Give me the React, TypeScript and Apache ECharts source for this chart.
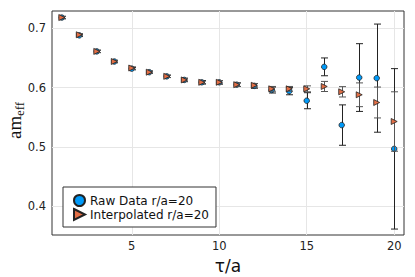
import React, { useEffect, useRef } from "react";
import * as echarts from "echarts";

const tau = [1, 2, 3, 4, 5, 6, 7, 8, 9, 10, 11, 12, 13, 14, 15, 16, 17, 18, 19, 20];
const rawData = [0.718, 0.688, 0.661, 0.644, 0.632, 0.626, 0.619, 0.613, 0.609, 0.609, 0.605, 0.603, 0.596, 0.594, 0.578, 0.635, 0.537, 0.617, 0.616, 0.497];
const rawErr = [0.002, 0.002, 0.002, 0.002, 0.002, 0.002, 0.002, 0.003, 0.003, 0.003, 0.003, 0.004, 0.005, 0.006, 0.0135, 0.015, 0.034, 0.057, 0.091, 0.135];
const interpData = [0.718, 0.689, 0.661, 0.644, 0.633, 0.626, 0.619, 0.613, 0.609, 0.609, 0.605, 0.604, 0.598, 0.598, 0.598, 0.602, 0.593, 0.588, 0.575, 0.543];
const interpErr = [0.002, 0.002, 0.002, 0.002, 0.002, 0.002, 0.002, 0.002, 0.002, 0.003, 0.003, 0.003, 0.004, 0.004, 0.005, 0.0085, 0.0087, 0.02, 0.026, 0.05];
const xTicks = [5, 10, 15, 20];
const yTicks = [0.4, 0.5, 0.6, 0.7];
const rawName = "Raw Data r/a=20";
const interpName = "Interpolated r/a=20";

const TRI = "path://M0,0L10,5L0,10Z";

function errSeries(vals: number[], errs: number[], color: string, z: number) {
  return {
    type: "custom",
    z,
    silent: true,
    encode: { x: 0, y: [1, 2] },
    data: tau.map((t, i) => [t, vals[i] - errs[i], vals[i] + errs[i]]),
    renderItem: (params: any, api: any) => {
      const x = api.value(0);
      const lo = api.value(1);
      const hi = api.value(2);
      const p1 = api.coord([x, hi]);
      const p2 = api.coord([x, lo]);
      const cx = Math.round(p1[0]) + 0.5;
      const w = 3.5;
      const st = { stroke: color, lineWidth: 1 };
      return {
        type: "group",
        children: [
          { type: "line", shape: { x1: cx, y1: p1[1], x2: cx, y2: p2[1] }, style: st },
          { type: "line", shape: { x1: cx - w, y1: p1[1], x2: cx + w, y2: p1[1] }, style: st },
          { type: "line", shape: { x1: cx - w, y1: p2[1], x2: cx + w, y2: p2[1] }, style: st },
        ],
      };
    },
  };
}

export default function App() {
  const ref = useRef<HTMLDivElement>(null);
  useEffect(() => {
    if (!ref.current) return;
    const chart = echarts.init(ref.current, null, { renderer: "svg" });
    const gridColor = "#e6e6e6";
    const option: any = {
      animation: false,
      backgroundColor: "#ffffff",
      grid: { left: 52, right: 11, top: 11, bottom: 42, show: true, borderColor: "#333", borderWidth: 1, backgroundColor: "transparent" },
      xAxis: {
        type: "value",
        min: 0.44,
        max: 20.56,
        axisLine: { show: false },
        splitLine: { show: false },
        axisTick: { show: true, inside: true, length: 3, customValues: xTicks, lineStyle: { color: "#333" } },
        axisLabel: { customValues: xTicks, fontFamily: "DejaVu Sans", fontSize: 11.5, color: "#222", margin: 5 },
      },
      yAxis: {
        type: "value",
        min: 0.352,
        max: 0.729,
        axisLine: { show: false },
        splitLine: { show: false },
        axisTick: { show: true, inside: true, length: 3, customValues: yTicks, lineStyle: { color: "#333" } },
        axisLabel: { customValues: yTicks, fontFamily: "DejaVu Sans", fontSize: 11.5, color: "#222", margin: 6, formatter: (v: number) => v.toFixed(1) },
      },
      legend: {
        orient: "vertical",
        left: 63,
        top: 187,
        padding: [7, 7, 6, 10],
        itemGap: 1,
        itemWidth: 11,
        itemHeight: 11,
        backgroundColor: "#ffffff",
        borderColor: "#333",
        borderWidth: 1,
        borderRadius: 0,
        textStyle: { fontFamily: "DejaVu Sans", fontSize: 12, color: "#111", lineHeight: 12.5 },
        data: [
          { name: rawName, icon: "circle" },
          { name: interpName, icon: TRI },
        ],
      },
      graphic: [
        {
          type: "text",
          x: 228,
          y: 266,
          style: { text: "τ/a", font: '17px "DejaVu Sans"', fill: "#111", textAlign: "center", textVerticalAlign: "middle" },
        },
        {
          type: "group",
          x: 14,
          y: 121,
          rotation: Math.PI / 2,
          children: [
            { type: "text", x: -18, y: 0, style: { text: "am", font: '19px "Liberation Serif"', fill: "#111", textAlign: "left", textVerticalAlign: "middle" } },
            { type: "text", x: 5, y: 5, style: { text: "eff", font: '13px "Liberation Serif"', fill: "#111", textAlign: "left", textVerticalAlign: "middle" } },
          ],
        },
      ],
      series: [
        {
          type: "scatter",
          name: "gridlines",
          data: [],
          z: 1,
          silent: true,
          markLine: {
            z: 1,
            silent: true,
            symbol: "none",
            label: { show: false },
            lineStyle: { color: gridColor, width: 1, type: "solid" },
            data: [...xTicks.map((v) => ({ xAxis: v })), ...yTicks.map((v) => ({ yAxis: v }))],
          },
        },
        errSeries(rawData, rawErr, "#222", 2),
        {
          type: "scatter",
          name: rawName,
          z: 3,
          symbol: "circle",
          symbolSize: 5.5,
          itemStyle: { color: "#009AF9", borderColor: "#222", borderWidth: 0.8, opacity: 1 },
          data: tau.map((t, i) => [t, rawData[i]]),
        },
        errSeries(interpData, interpErr, "#555", 4),
        {
          type: "scatter",
          name: interpName,
          z: 5,
          symbol: TRI,
          symbolSize: [6, 6],
          itemStyle: { color: "#E26F46", borderColor: "#222", borderWidth: 0.8, opacity: 1 },
          data: tau.map((t, i) => [t, interpData[i]]),
        },
      ],
    };
    chart.setOption(option);
    return () => chart.dispose();
  }, []);
  return <div ref={ref} style={{ width: 415, height: 277, position: "absolute", left: 0, top: 0 }} />;
}
